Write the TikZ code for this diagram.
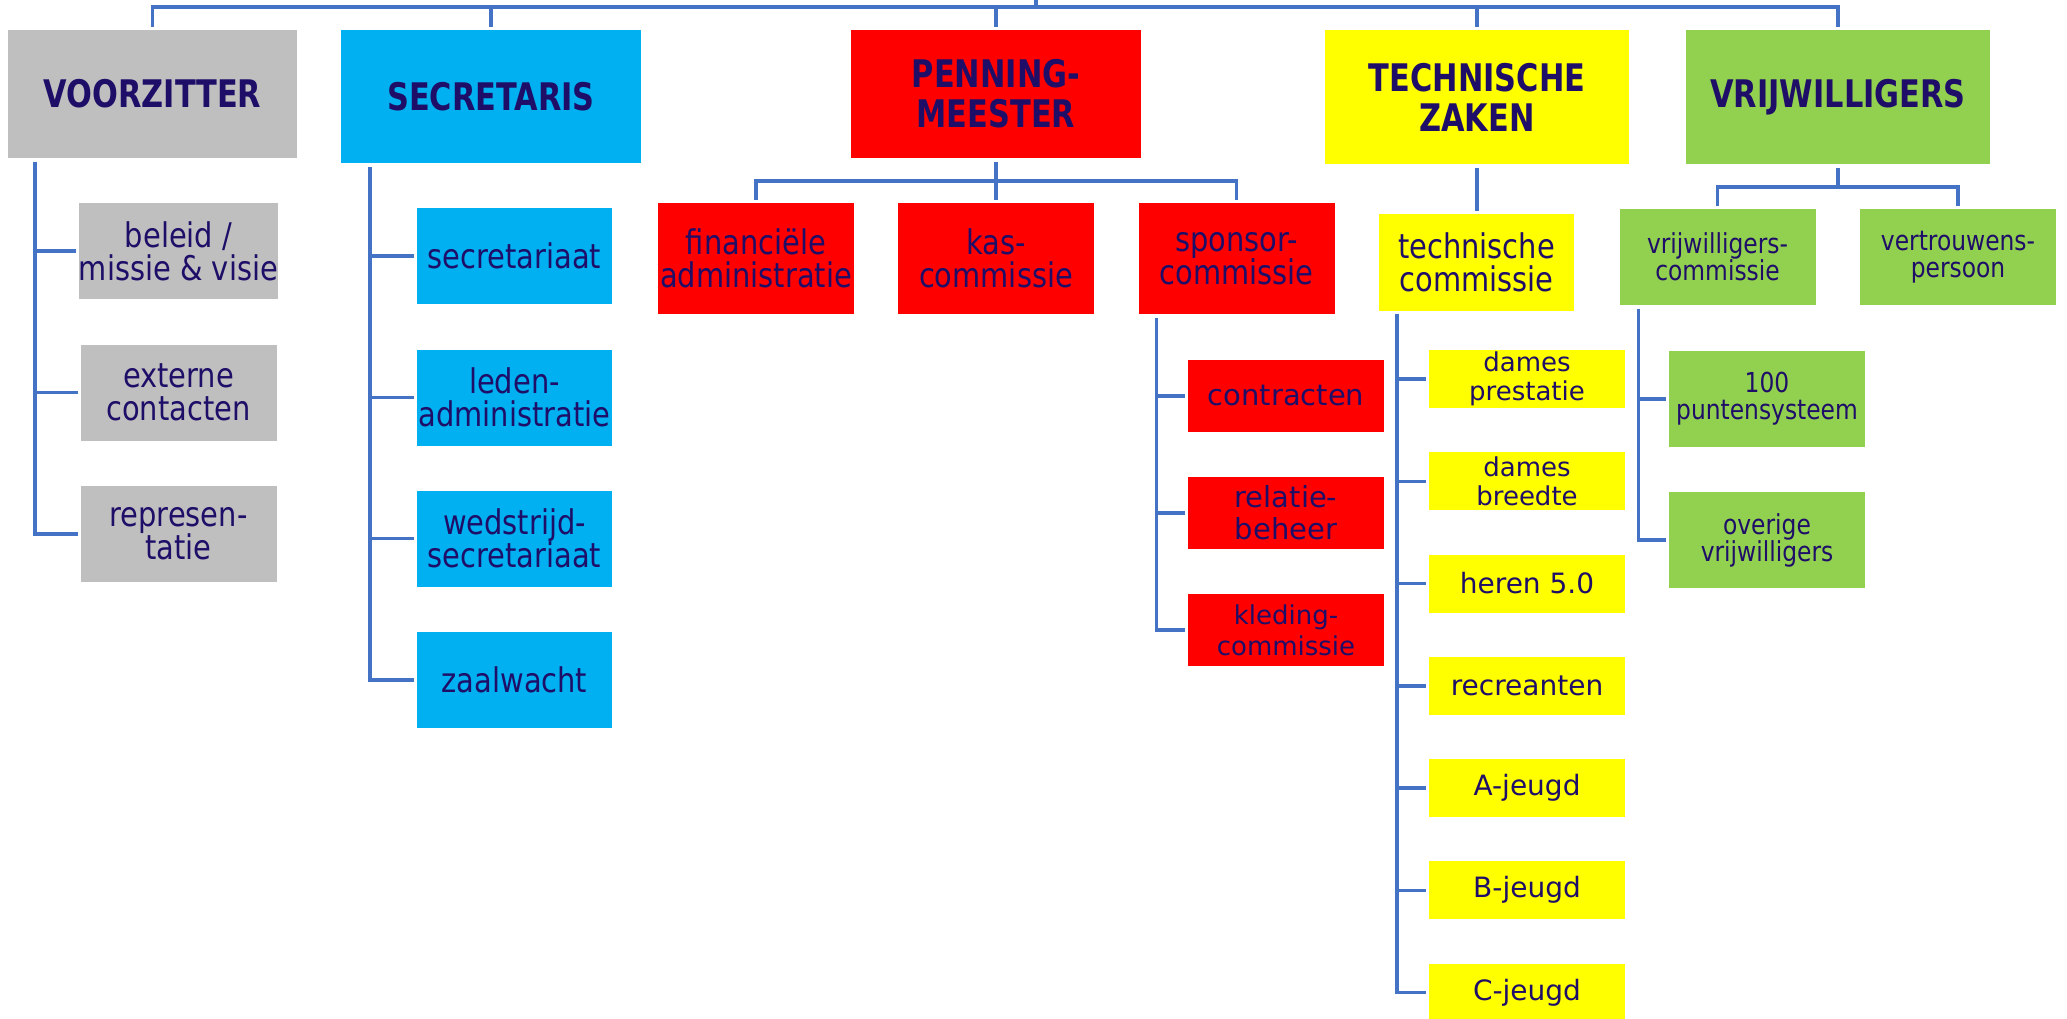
\documentclass[tikz,border=0pt]{standalone}
\usepackage{fontspec}
\setmainfont{DejaVu Sans}[FakeStretch=0.85]
\newfontfamily\widefont{DejaVu Sans}
\newfontfamily\headfont{DejaVu Sans}[FakeStretch=0.8]
\usepackage{tikz}

\definecolor{vzgray}{HTML}{BFBFBF}
\definecolor{scblue}{HTML}{00B0F0}
\definecolor{pmred}{HTML}{FF0000}
\definecolor{tzyellow}{HTML}{FFFF00}
\definecolor{vwgreen}{HTML}{92D050}
\definecolor{txt}{RGB}{30,14,104}
\definecolor{lijn}{HTML}{4472C4}

\begin{document}
\begin{tikzpicture}[x=1pt,y=-1pt,
	conn/.style={draw=lijn,line width=3.5pt},
	box/.style={shape=rectangle,inner sep=0pt,align=center,text=txt},
	head/.style={box,font=\headfont\fontsize{38}{40}\selectfont\bfseries},
	sub/.style={box,minimum width=196pt,minimum height=96pt,font=\fontsize{34}{33}\selectfont},
	item/.style={box,fill=pmred,minimum width=196pt,minimum height=72pt,font=\widefont\fontsize{29}{32}\selectfont},
	team/.style={box,fill=tzyellow,minimum width=196pt,minimum height=58pt,font=\widefont\fontsize{28}{29}\selectfont},
	vwbox/.style={box,fill=vwgreen,minimum width=196pt,minimum height=96pt,font=\fontsize{27.5}{27}\selectfont}
	]
	
	\useasboundingbox (0,0) rectangle (2067,1019);
	
	% bestuur
	\node[head,fill=vzgray,minimum width=289pt,minimum height=128pt]   (voorz) at (152.5, 94)  {VOORZITTER};
	\node[head,fill=scblue,minimum width=300pt,minimum height=133pt]   (secr)  at (491, 96.5)  {SECRETARIS};
	\node[head,fill=pmred,minimum width=290pt,minimum height=128pt]    (penn)  at (996, 94)    {PENNING-\\MEESTER};
	\node[head,fill=tzyellow,minimum width=304pt,minimum height=134pt] (tech)  at (1477, 97)   {TECHNISCHE\\ZAKEN};
	\node[head,fill=vwgreen,minimum width=304pt,minimum height=134pt]  (vrij)  at (1838, 97)   {VRIJWILLIGERS};
	
	% voorzitter
	\node[sub,fill=vzgray] (vz1) at (178.5, 251)   {beleid /\\missie \& visie};
	\node[sub,fill=vzgray] (vz2) at (178.5, 392.5) {externe\\contacten};
	\node[sub,fill=vzgray] (vz3) at (178.5, 534)   {represen-\\tatie};
	
	% secretaris
	\node[sub,fill=scblue,minimum width=195pt] (sc1) at (514.5, 256)   {secretariaat};
	\node[sub,fill=scblue,minimum width=195pt] (sc2) at (514.5, 397.5) {leden-\\administratie};
	\node[sub,fill=scblue,minimum width=195pt] (sc3) at (514.5, 538.5) {wedstrijd-\\secretariaat};
	\node[sub,fill=scblue,minimum width=195pt] (sc4) at (514.5, 680)   {zaalwacht};
	
	% penningmeester
	\node[sub,fill=pmred,minimum height=111pt] (pm1) at (756, 258.5)    {financiële\\administratie};
	\node[sub,fill=pmred,minimum height=111pt] (pm2) at (996, 258.5)    {kas-\\commissie};
	\node[sub,fill=pmred,minimum height=111pt] (pm3) at (1236.5, 258.5) {sponsor-\\commissie};
	
	\node[item] (sp1) at (1286, 396) {contracten};
	\node[item] (sp2) at (1286, 513) {relatie-\\beheer};
	\node[item,font=\widefont\fontsize{26}{31}\selectfont] (sp3) at (1286, 630) {kleding-\\commissie};
	
	% technische zaken
	\node[sub,fill=tzyellow,minimum width=195pt,minimum height=97pt] (tc) at (1476.5, 262.5) {technische\\commissie};
	
	\node[team,font=\widefont\fontsize{26}{29}\selectfont] (tz1) at (1527, 379)    {dames\\prestatie};
	\node[team,font=\widefont\fontsize{26}{29}\selectfont] (tz2) at (1527, 481.25) {dames\\breedte};
	\node[team] (tz3) at (1527, 583.5)  {heren 5.0};
	\node[team] (tz4) at (1527, 685.75) {recreanten};
	\node[team] (tz5) at (1527, 788)    {A-jeugd};
	\node[team] (tz6) at (1527, 890.25) {B-jeugd};
	\node[team] (tz7) at (1527, 992.5)  {C-jeugd};
	
	% vrijwilligers
	\node[vwbox] (vc)  at (1717.5, 257) {vrijwilligers-\\commissie};
	\node[vwbox] (vp)  at (1958, 257)   {vertrouwens-\\persoon};
	\node[vwbox] (vc1) at (1767, 399)   {100\\puntensysteem};
	\node[vwbox] (vc2) at (1767, 540)   {overige\\vrijwilligers};
	
	% lijnen bovenaan
	\coordinate (top) at (1036, -5);
	\coordinate (bus) at (1036, 7);
	\draw[conn] (top) -- (bus);
	\draw[conn,shorten <=3pt,shorten >=3pt] (voorz.north) |- (bus) -| (vrij.north);
	\draw[conn,shorten >=3pt] (bus -| secr.north) -- (secr.north);
	\draw[conn,shorten >=3pt] (bus -| penn.north) -- (penn.north);
	\draw[conn,shorten >=3pt] (bus -| tech.north) -- (tech.north);
	
	% voorzitter
	\coordinate (vz-spine) at ([xshift=27pt,yshift=-4pt]voorz.south west);
	\draw[conn,shorten >=2.5pt] (vz-spine) |- (vz3.west);
	\draw[conn,shorten >=2.5pt] (vz-spine |- vz1.west) -- (vz1.west);
	\draw[conn,shorten >=2.5pt] (vz-spine |- vz2.west) -- (vz2.west);
	
	% secretaris
	\coordinate (sc-spine) at ([xshift=29pt,yshift=-4pt]secr.south west);
	\draw[conn,shorten >=2.5pt] (sc-spine) |- (sc4.west);
	\draw[conn,shorten >=2.5pt] (sc-spine |- sc1.west) -- (sc1.west);
	\draw[conn,shorten >=2.5pt] (sc-spine |- sc2.west) -- (sc2.west);
	\draw[conn,shorten >=2.5pt] (sc-spine |- sc3.west) -- (sc3.west);
	
	% penningmeester
	\coordinate (pm-bus) at ([yshift=-23pt]penn.south);
	\draw[conn,shorten <=3pt,shorten >=3pt] (pm1.north) |- (pm-bus) -| (pm3.north);
	\draw[conn,shorten <=4pt,shorten >=3pt] (penn.south) -- (pm2.north);
	
	\coordinate (sp-spine) at ([xshift=18pt,yshift=-4pt]pm3.south west);
	\draw[conn,shorten >=2.5pt] (sp-spine) |- (sp3.west);
	\draw[conn,shorten >=2.5pt] (sp-spine |- sp1.west) -- (sp1.west);
	\draw[conn,shorten >=2.5pt] (sp-spine |- sp2.west) -- (sp2.west);
	
	% technische zaken
	\draw[conn,shorten <=4pt,shorten >=3pt] (tech.south) -- (tech.south |- tc.north);
	
	\coordinate (tz-spine) at ([xshift=18pt,yshift=-3pt]tc.south west);
	\draw[conn,shorten >=2.5pt] (tz-spine) |- (tz7.west);
	\draw[conn,shorten >=2.5pt] (tz-spine |- tz1.west) -- (tz1.west);
	\draw[conn,shorten >=2.5pt] (tz-spine |- tz2.west) -- (tz2.west);
	\draw[conn,shorten >=2.5pt] (tz-spine |- tz3.west) -- (tz3.west);
	\draw[conn,shorten >=2.5pt] (tz-spine |- tz4.west) -- (tz4.west);
	\draw[conn,shorten >=2.5pt] (tz-spine |- tz5.west) -- (tz5.west);
	\draw[conn,shorten >=2.5pt] (tz-spine |- tz6.west) -- (tz6.west);
	
	% vrijwilligers
	\coordinate (vw-bus) at ([yshift=-23pt]vrij.south);
	\draw[conn,shorten <=3pt,shorten >=3pt] (vc.north) |- (vw-bus) -| (vp.north);
	\draw[conn,shorten <=4pt] (vrij.south) -- (vw-bus);
	
	\coordinate (vc-spine) at ([xshift=19pt,yshift=-4pt]vc.south west);
	\draw[conn,shorten >=2.5pt] (vc-spine) |- (vc2.west);
	\draw[conn,shorten >=2.5pt] (vc-spine |- vc1.west) -- (vc1.west);
	
\end{tikzpicture}
\end{document}
